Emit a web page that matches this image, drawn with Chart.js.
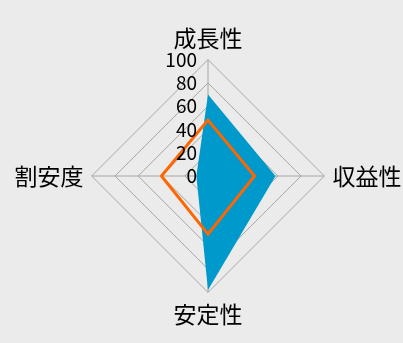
<!DOCTYPE html>
<html>
<head>
<meta charset="utf-8">
<script src="https://cdn.jsdelivr.net/npm/chart.js@4"></script>
<style>
html,body{margin:0;padding:0;background:#ebebeb;overflow:hidden;}
canvas{display:block;}
</style>
</head>
<body>
<canvas id="c" width="403" height="343"></canvas>
<script>
const categories = ['成長性', '収益性', '安定性', '割安度'];
const seriesBlue = [70, 58, 98, 10];
const seriesOrange = [48, 40, 50, 40];
const tickLabels = [0, 20, 40, 60, 80, 100];

const FONT = '"Noto Sans CJK JP", "Noto Sans", sans-serif';

const tickPlugin = {
  id: 'tickText',
  afterDraw(chart) {
    const s = chart.scales.r;
    const ctx = chart.ctx;
    ctx.save();
    ctx.font = '19px ' + FONT;
    ctx.fillStyle = '#000';
    ctx.textAlign = 'right';
    ctx.textBaseline = 'middle';
    tickLabels.forEach(v => {
      const d = s.getDistanceFromCenterForValue(v);
      ctx.fillText(String(v), s.xCenter - 11, s.yCenter - d);
    });
    ctx.restore();
  }
};

new Chart(document.getElementById('c'), {
  type: 'radar',
  data: {
    labels: categories,
    datasets: [
      {
        label: 'B',
        data: seriesOrange,
        borderColor: '#ff6600',
        borderWidth: 3,
        backgroundColor: 'rgba(0,0,0,0)',
        fill: false,
        pointRadius: 0,
        pointHoverRadius: 0,
        tension: 0
      },
      {
        label: 'A',
        data: seriesBlue,
        borderColor: 'rgba(0,0,0,0)',
        borderWidth: 0,
        backgroundColor: '#0099cc',
        fill: true,
        pointRadius: 0,
        pointHoverRadius: 0,
        tension: 0
      }
    ]
  },
  options: {
    responsive: false,
    animation: false,
    devicePixelRatio: 1,
    layout: { padding: { left: 14, right: 1, top: 25, bottom: 14 } },
    plugins: { legend: { display: false }, tooltip: { enabled: false } },
    scales: {
      r: {
        min: 0,
        max: 100,
        ticks: { stepSize: 20, display: false },
        grid: { color: '#a6a6a6', lineWidth: 1 },
        angleLines: { color: '#a6a6a6', lineWidth: 1 },
        pointLabels: {
          padding: 8,
          color: '#000',
          font: { family: FONT, size: 23 }
        }
      }
    }
  },
  plugins: [tickPlugin]
});
</script>
</body>
</html>
